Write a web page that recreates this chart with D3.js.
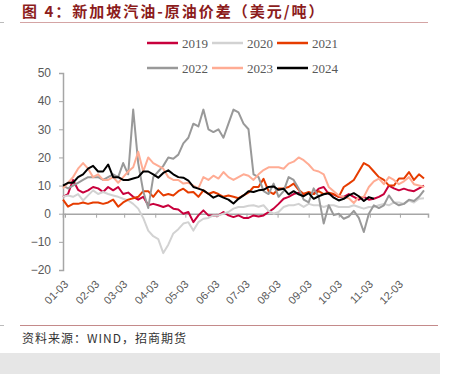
<!DOCTYPE html>
<html lang="zh">
<head>
<meta charset="utf-8">
<title>新加坡汽油-原油价差</title>
<script src="https://cdn.jsdelivr.net/npm/d3@7"></script>
<style>
  body { margin: 0; background: #fff; }
  svg { display: block; }
</style>
</head>
<body>
<script>
// day of year for each sample (roughly every 5 days)
var days = [1,6,11,16,21,26,31,36,41,46,51,56,61,66,71,76,81,86,91,96,
  101,106,111,116,121,126,131,136,141,146,151,156,161,166,171,176,181,186,191,196,
  201,206,211,216,221,226,231,236,241,246,251,256,261,266,271,276,281,286,291,296,
  301,306,311,316,321,326,331,336,341,346,351,356,361];

var years = ["2019", "2020", "2021", "2022", "2023", "2024"];

var v2019 = [6,7,12,8.5,7.5,8.3,9.5,9,7.7,9.5,8.3,9.5,7,7.5,6,5,6,3,3.5,3,
  2.4,3,1.8,1.5,0,0.6,-3,-0.6,1.2,-0.6,-0.6,-0.6,0.6,-0.6,-1.2,-0.6,-1.5,-1.5,-0.6,-1,
  -0.6,0.6,1.8,3.5,5.3,6,7,7.5,7,7.5,7,8.9,9.5,7,6.8,6,6,7,6,5,
  6,5,5.3,6,7,10,9,8.3,8.9,8.3,8,9,10];
var v2020 = [6,6.5,6,7,4.7,6.5,8.3,7,7.7,7,6.5,6,5.3,4.7,3.5,1.8,-1.5,-6,-8,-9,
  -14,-11,-7,-5.5,-3.5,-3,-6,-3,-1.8,-1.5,-0.6,-0.6,0,0.6,1.8,2.4,2.4,2.8,3,2.5,
  3,1,0,0.6,2.4,3,3,3.5,2.4,3.5,3,3,2.4,3,3,2.4,2.4,2.4,3,2.4,
  1.8,2.4,2.4,3,3.5,3,4,4,3.5,4.7,4,5.3,5.5];
var v2021 = [5,2.5,3.5,3.5,4,3.5,4,4,3.5,4,5,2.5,4,5,5.5,6,8,8,6,8.3,
  6.5,7,6.5,8,8.9,7.5,7.7,6,8.3,7,7.7,7,6,6.5,6,5.5,6.5,7.5,9.5,9.5,
  12.4,8,7,9,9,9.5,10.7,8.5,7,7.7,7,8,7,7.5,7,6,9.5,10.7,12,15,
  18,17,15,13,12,10,10,12.5,12.5,14.8,12,14,12.5];
var v2022 = [10,9,10,11,12,13,13,13,12,13,14,13,18,14,37,18,8,2,13,15,
  17,20,19.5,21,25,27,32,31,37,30,29,30,27,32,37,36,32,30,14,13,
  8,7,10.7,6,8,13,12,9,5,4,9,6,-3.5,3,-0.5,0,-1.8,-1,1,-1.5,
  -6.5,0,3,2,3,6.5,4,3,3.5,5,4.5,6,8.3];
var v2023 = [9,11,13,16,18,16,13,14,12,12,13,11,13,15,16.5,22,15,20,18,17,
  16,13,12,12,10.7,11,10,9,13,12,13.5,12.5,14.8,13,12,13,14,13.5,12,14,
  15.5,16.5,16.5,16.5,16,17.8,18.5,20,19,17.5,15.5,15,14,9.5,8,6.5,5.9,5.5,3.8,5.9,
  6,9.5,11.5,12.5,10.5,13,12,10.5,11.5,13,10.5,10,9.5];
var v2024 = [10,11,11,13,14,16,17,15,15,17.5,13,13,12,12,12.5,13,15,15,14,12.8,
  14.5,15.4,14,13,12.8,11.8,9.5,8.9,8.3,7.1,5.7,6.5,5.7,5,3.6,5.3,6.5,8,7.7,8.3,
  8.5,9.5,9.7,8.5,8.9,6.9,8,6.9,6.2,7.3,5.3,6.2,6.9,7.3,5.7,4.7,5.3,6.5,7.3,6.2,
  4.5,5.9,5.3];

var series = [v2019, v2020, v2021, v2022, v2023, v2024];
var colors = ["#c8003c", "#d2d2d2", "#e63c00", "#999999", "#ffac94", "#000000"];

var yTicks = [50, 40, 30, 20, 10, 0, -10, -20];
var tickDays = [3, 34, 62, 93, 123, 154, 184, 215, 246, 276, 307, 337];
var tickLabels = ["01-03","02-03","03-03","04-03","05-03","06-03","07-03","08-03","09-03","10-03","11-03","12-03"];

var w = 453, h = 374;

var svg = d3.select("body").append("svg")
  .attr("width", w)
  .attr("height", h);

var x = d3.scaleLinear().domain([1, 365]).range([63, 428]);
var y = d3.scaleLinear().domain([-20, 50]).range([270, 73]);

// title
svg.append("text")
  .attr("x", 22).attr("y", 17)
  .style("font-family", "'Noto Sans CJK SC'")
  .style("font-size", "15px")
  .style("font-weight", "bold")
  .style("letter-spacing", "2px")
  .style("fill", "#8c1c1c")
  .text("图 4：新加坡汽油-原油价差（美元/吨）");

svg.append("line").attr("x1", 20).attr("x2", 428).attr("y1", 22.5).attr("y2", 22.5)
  .style("stroke", "#d4a4a4").style("stroke-width", 1);
svg.append("line").attr("x1", 0).attr("x2", 4).attr("y1", 22.5).attr("y2", 22.5)
  .style("stroke", "#bbb");

// y axis
var yAxis = svg.append("g")
  .attr("transform", "translate(63,0)")
  .call(d3.axisLeft(y).tickValues(yTicks).tickSize(4).tickPadding(8));
yAxis.select(".domain").style("stroke", "#a6a6a6").style("stroke-width", 1.5);
yAxis.selectAll(".tick line").style("stroke", "#a6a6a6");
yAxis.selectAll("text")
  .style("font-family", "'Liberation Sans'")
  .style("font-size", "12px")
  .style("fill", "#595959");

// x axis on the zero line
var xAxis = svg.append("g")
  .attr("transform", "translate(0," + y(0) + ")")
  .call(d3.axisBottom(x).tickValues(tickDays).tickSize(4).tickFormat(""));
xAxis.select(".domain").style("stroke", "#a6a6a6").style("stroke-width", 1.5);
xAxis.selectAll(".tick line").style("stroke", "#a6a6a6");

// x labels at the bottom
svg.append("g").selectAll("text")
  .data(tickDays)
  .enter()
  .append("text")
  .attr("transform", function(d) { return "translate(" + (x(d) + 4) + ",285) rotate(-45)"; })
  .attr("text-anchor", "end")
  .style("font-family", "'Liberation Sans'")
  .style("font-size", "11px")
  .style("fill", "#595959")
  .text(function(d, i) { return tickLabels[i]; });

// lines
var line = d3.line()
  .x(function(d, i) { return x(days[i]); })
  .y(function(d) { return y(d); });

svg.append("g").selectAll("path")
  .data(series)
  .enter()
  .append("path")
  .attr("d", line)
  .style("fill", "none")
  .style("stroke", function(d, i) { return colors[i]; })
  .style("stroke-width", 2)
  .style("stroke-linejoin", "round");

// legend
var leg = svg.append("g").selectAll("g")
  .data(years)
  .enter()
  .append("g")
  .attr("transform", function(d, i) {
    return "translate(" + (147 + (i % 3) * 65) + "," + (i < 3 ? 43 : 68) + ")";
  });
leg.append("line")
  .attr("x1", 0).attr("x2", 31)
  .style("stroke", function(d, i) { return colors[i]; })
  .style("stroke-width", 2.5);
leg.append("text")
  .attr("x", 35).attr("y", 4.5)
  .style("font-family", "'Liberation Serif'")
  .style("font-size", "13px")
  .style("fill", "#595959")
  .text(function(d) { return d; });

// source
svg.append("line").attr("x1", 20).attr("x2", 438).attr("y1", 325.5).attr("y2", 325.5)
  .style("stroke", "#c48a8a").style("stroke-width", 1);
svg.append("line").attr("x1", 0).attr("x2", 4).attr("y1", 325.5).attr("y2", 325.5)
  .style("stroke", "#bbb");
svg.append("text")
  .attr("x", 22).attr("y", 343)
  .style("font-family", "'Noto Sans CJK SC'")
  .style("font-size", "12px")
  .style("letter-spacing", "1px")
  .style("fill", "#333")
  .text("资料来源：WIND，招商期货");

svg.append("rect")
  .attr("x", 0).attr("y", 353).attr("width", 440).attr("height", 21)
  .style("fill", "#e6e6e6");
</script>
</body>
</html>
